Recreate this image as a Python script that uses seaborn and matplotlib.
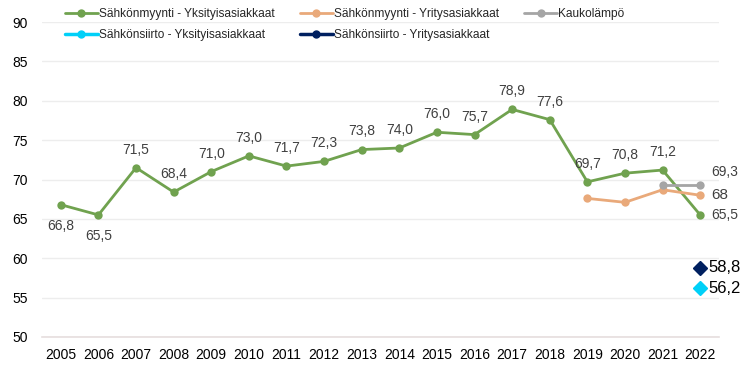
import pandas as pd
import matplotlib
matplotlib.use('Agg')
import matplotlib.pyplot as plt
import seaborn as sns

sns.set_style("white")
plt.rcParams['font.family'] = ['Liberation Sans', 'DejaVu Sans']

# ---------------- data ----------------
years = list(range(2005, 2023))
myynti_yks = [66.8, 65.5, 71.5, 68.4, 71.0, 73.0, 71.7, 72.3, 73.8, 74.0,
              76.0, 75.7, 78.9, 77.6, 69.7, 70.8, 71.2, 65.5]
myynti_yri_years = [2019, 2020, 2021, 2022]
myynti_yri = [67.6, 67.1, 68.7, 68.0]
kaukolampo_years = [2021, 2022]
kaukolampo = [69.3, 69.3]
siirto_yks = [56.2]
siirto_yri = [58.8]

green = "#70A24F"
orange = "#E9A97A"
grey = "#A5A5A5"
cyan = "#00D0F8"
navy = "#002060"
txt = "#404040"

fig = plt.figure(figsize=(7.46, 3.87), dpi=100)
ax = fig.add_axes([42 / 746, 50 / 387, 677 / 746, 315 / 387])

sns.lineplot(x=years, y=myynti_yks, ax=ax, color=green, lw=2, marker='o',
             markersize=6, markeredgewidth=0, label="Sähkönmyynti - Yksityisasiakkaat")
sns.lineplot(x=myynti_yri_years, y=myynti_yri, ax=ax, color=orange, lw=2, marker='o',
             markersize=6, markeredgewidth=0, label="Sähkönmyynti - Yritysasiakkaat")
sns.lineplot(x=kaukolampo_years, y=kaukolampo, ax=ax, color=grey, lw=2, marker='o',
             markersize=6, markeredgewidth=0, label="Kaukolämpö")
# legend-only entries for the single-point series
ax.plot([], [], color=cyan, lw=2.5, marker='o', markersize=5, label="Sähkönsiirto - Yksityisasiakkaat")
ax.plot([], [], color=navy, lw=2.5, marker='o', markersize=5, label="Sähkönsiirto - Yritysasiakkaat")
ax.plot([2022], siirto_yks, ls='none', marker='D', color=cyan, markersize=7)
ax.plot([2022], siirto_yri, ls='none', marker='D', color=navy, markersize=7)

# data labels
for yr, v in zip(years, myynti_yks):
    s = f"{v:.1f}".replace('.', ',')
    if yr in (2005, 2006):
        ax.annotate(s, (yr, v), xytext=(0, -10), textcoords='offset points',
                    ha='center', va='top', fontsize=10, color=txt)
    elif yr == 2022:
        ax.annotate(s, (yr, v), xytext=(8, 0), textcoords='offset points',
                    ha='left', va='center', fontsize=10, color=txt)
    else:
        ax.annotate(s, (yr, v), xytext=(0, 8), textcoords='offset points',
                    ha='center', va='bottom', fontsize=10, color=txt)
ax.annotate("69,3", (2022, kaukolampo[-1]), xytext=(8, 4), textcoords='offset points',
            ha='left', va='bottom', fontsize=10, color=txt)
ax.annotate("68", (2022, myynti_yri[-1]), xytext=(8, 0), textcoords='offset points',
            ha='left', va='center', fontsize=11, color=txt)
ax.annotate("58,8", (2022, siirto_yri[0]), xytext=(6, 0), textcoords='offset points',
            ha='left', va='center', fontsize=12, color='black')
ax.annotate("56,2", (2022, siirto_yks[0]), xytext=(6, 0), textcoords='offset points',
            ha='left', va='center', fontsize=12, color='black')

ax.set_xlim(2004.5, 2022.5)
ax.set_ylim(50, 90)
ax.set_xticks(years)
ax.set_yticks(range(50, 91, 5))
ax.tick_params(axis='both', labelsize=10, length=0, colors='black')
ax.tick_params(axis='x', pad=8)
ax.tick_params(axis='y', pad=10)
ax.grid(axis='y', color='#EDEDED', lw=1)
for side in ('top', 'right', 'left'):
    ax.spines[side].set_visible(False)
ax.spines['bottom'].set_color('#E6DEDE')
ax.spines['bottom'].set_linewidth(1.2)

# legend filled column-wise, so reorder to read row by row
handles, labels = ax.get_legend_handles_labels()
order = [0, 3, 1, 4, 2]
ax.legend([handles[i] for i in order], [labels[i] for i in order],
          loc='upper left', bbox_to_anchor=(65 / 746, 1 - 8 / 387),
          bbox_transform=fig.transFigure, ncol=3, frameon=False, fontsize=8.6,
          handlelength=2.75, handletextpad=0.1, columnspacing=2.1,
          labelspacing=0.76, borderpad=0, borderaxespad=0)

fig.savefig("out.png", dpi=100)
